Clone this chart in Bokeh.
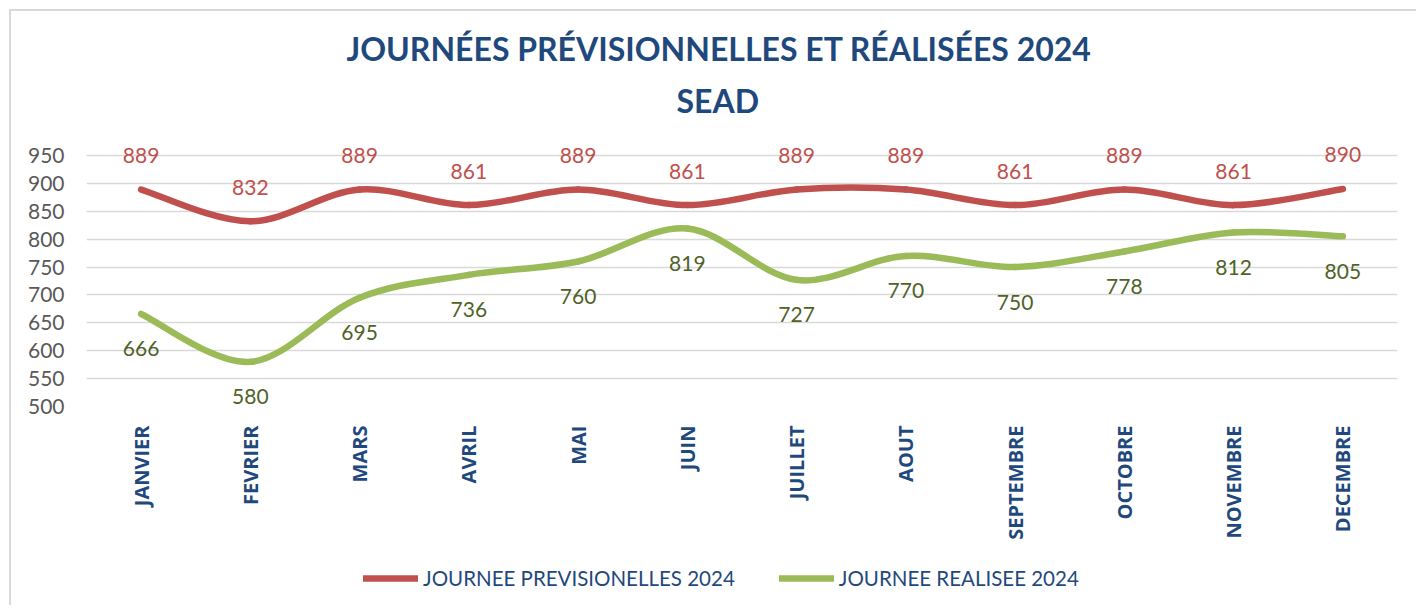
import math
from bokeh.plotting import figure
from bokeh.layouts import column
from bokeh.models import (Range1d, FixedTicker, Title, Legend, LegendItem,
                          ColumnDataSource)
from bokeh.core.properties import value
from bokeh.embed import file_html
from bokeh.resources import INLINE

# ---------------- data ----------------
months = ["JANVIER", "FEVRIER", "MARS", "AVRIL", "MAI", "JUIN",
          "JUILLET", "AOUT", "SEPTEMBRE", "OCTOBRE", "NOVEMBRE", "DECEMBRE"]
prev_2024 = [889, 832, 889, 861, 889, 861, 889, 889, 861, 889, 861, 890]
real_2024 = [666, 580, 695, 736, 760, 819, 727, 770, 750, 778, 812, 805]
y_ticks = [500, 550, 600, 650, 700, 750, 800, 850, 900, 950]
series_names = ["JOURNEE PREVISIONELLES 2024", "JOURNEE REALISEE 2024"]

RED = "#C0504D"
GREEN = "#9BBB59"
RED_TXT = "#C0504D"
GREEN_TXT = "#4F6228"
NAVY = "#1F497D"
FONT = "Lato"
W = 1405

xs = [i + 0.5 for i in range(len(months))]

p = figure(width=W, height=540, output_backend="svg", toolbar_location=None,
           x_range=Range1d(0, len(months)), y_range=Range1d(500, 989.4),
           title=None, min_border_left=75, min_border_right=19,
           min_border_top=122, min_border_bottom=145)
p.outline_line_color = None
p.background_fill_color = "white"
p.border_fill_color = "white"

# titles (added nearest-first)
p.add_layout(Title(text="SEAD", align="left", text_font=FONT,
                   text_font_size="32px", text_font_style="bold",
                   text_color=NAVY, offset=590, standoff=28), "above")
p.add_layout(Title(text="JOURNÉES PRÉVISIONNELLES ET RÉALISÉES 2024", align="left",
                   text_font=FONT, text_font_size="32px", text_font_style="bold",
                   text_color=NAVY, offset=260, standoff=-7), "above")

# axes
p.yaxis.ticker = FixedTicker(ticks=y_ticks)
p.yaxis.axis_line_color = None
p.yaxis.major_tick_line_color = None
p.yaxis.major_tick_out = 0
p.yaxis.major_tick_in = 0
p.yaxis.minor_tick_line_color = None
p.yaxis.major_label_text_font = FONT
p.yaxis.major_label_text_font_size = "21px"
p.yaxis.major_label_text_color = "#595959"
p.yaxis.major_label_standoff = 22

p.xaxis.ticker = FixedTicker(ticks=xs)
p.xaxis.major_label_overrides = {x: m for x, m in zip(xs, months)}
p.xaxis.major_label_orientation = math.pi / 2
p.xaxis.axis_line_color = None
p.xaxis.major_tick_line_color = None
p.xaxis.major_tick_out = 0
p.xaxis.major_tick_in = 0
p.xaxis.minor_tick_line_color = None
p.xaxis.major_label_text_font = "Open Sans"
p.xaxis.major_label_text_font_style = "bold"
p.xaxis.major_label_text_font_size = "20px"
p.xaxis.major_label_text_color = NAVY
p.xaxis.major_label_standoff = 19

p.xgrid.grid_line_color = None
p.ygrid.grid_line_color = "#D9D9D9"
p.ygrid.grid_line_width = 1.5


def smooth_segments(xv, yv):
    """Excel-like smoothed line: cubic Bezier segments (Catmull-Rom control points)."""
    n = len(xv)
    d = dict(x0=[], y0=[], x1=[], y1=[], cx0=[], cy0=[], cx1=[], cy1=[])
    for i in range(n - 1):
        im1 = max(i - 1, 0)
        ip2 = min(i + 2, n - 1)
        d["x0"].append(xv[i]); d["y0"].append(yv[i])
        d["x1"].append(xv[i + 1]); d["y1"].append(yv[i + 1])
        d["cx0"].append(xv[i] + (xv[i + 1] - xv[im1]) / 6)
        d["cy0"].append(yv[i] + (yv[i + 1] - yv[im1]) / 6)
        d["cx1"].append(xv[i + 1] - (xv[ip2] - xv[i]) / 6)
        d["cy1"].append(yv[i + 1] - (yv[ip2] - yv[i]) / 6)
    return ColumnDataSource(d)


for vals, col in ((prev_2024, RED), (real_2024, GREEN)):
    p.bezier(x0="x0", y0="y0", x1="x1", y1="y1", cx0="cx0", cy0="cy0",
             cx1="cx1", cy1="cy1", source=smooth_segments(xs, vals),
             line_color=col, line_width=6.5, line_cap="round")

# data labels
p.text(x=xs, y=prev_2024, text=[str(v) for v in prev_2024], y_offset=-34,
       text_align="center", text_baseline="middle", text_font=value(FONT),
       text_font_size="21px", text_color=RED_TXT)
p.text(x=xs, y=real_2024, text=[str(v) for v in real_2024], y_offset=35,
       text_align="center", text_baseline="middle", text_font=value(FONT),
       text_font_size="21px", text_color=GREEN_TXT)

# ---------------- legend strip ----------------
lg = figure(width=W, height=54, output_backend="svg", toolbar_location=None,
            x_axis_type=None, y_axis_type=None, x_range=Range1d(0, 1),
            y_range=Range1d(0, 1), min_border=0, title=None)
lg.outline_line_color = None
lg.xgrid.grid_line_color = None
lg.ygrid.grid_line_color = None
# proxy renderers for the legend (their data lie outside the visible range)
leg_red = lg.line(x=[-5, -4], y=[-5, -5], line_color=RED, line_width=6.5,
                  line_cap="round")
leg_green = lg.line(x=[-5, -4], y=[-5, -5], line_color=GREEN, line_width=6.5,
                    line_cap="round")
legend = Legend(items=[LegendItem(label=series_names[0], renderers=[leg_red]),
                       LegendItem(label=series_names[1], renderers=[leg_green])],
                orientation="horizontal", location=(277, 15),
                glyph_width=55, glyph_height=20, label_standoff=5, spacing=44,
                padding=0, margin=0, border_line_color=None,
                background_fill_alpha=0,
                label_text_font=FONT, label_text_font_size="20.5px",
                label_text_color=NAVY)
lg.add_layout(legend, "center")

layout = column(p, lg, spacing=0, margin=(9, 0, 0, 9))
layout.styles = {"border-top": "2px solid #D9D9D9", "border-left": "2px solid #D9D9D9"}
open("out.html", "w").write(file_html(layout, INLINE))
